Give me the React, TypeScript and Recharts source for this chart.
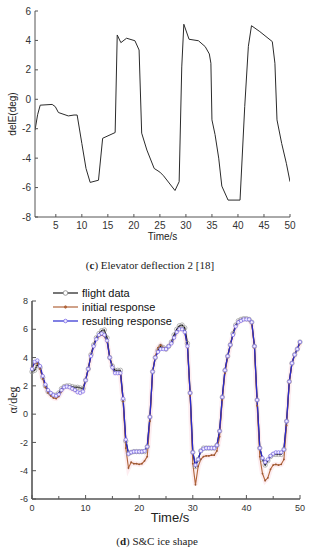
import React from "react";
import { LineChart, Line, XAxis, YAxis, Legend, Label } from "recharts";

// (c) elevator deflection
const elevTime = [
  1.0, 1.5, 2.0, 4.3, 4.9, 5.5, 7.4, 8.5, 9.1, 10.0, 10.8, 11.6, 13.2, 14.0,
  16.4, 16.8, 17.5, 18.6, 20.2, 21.0, 21.5, 22.5, 23.9, 25.0, 25.7, 27.9, 28.7,
  29.2, 29.6, 30.6, 32.4, 33.7, 34.5, 34.8, 35.0, 35.6, 36.3, 36.9, 38.1, 40.4,
  41.3, 42.0, 42.6, 44.2, 46.6, 47.1, 47.5, 48.4, 49.3, 50.0,
];
const elevDeg = [
  -2.1, -1.05, -0.4, -0.35, -0.5, -0.9, -1.13, -1.07, -1.07, -3.0, -4.7, -5.65,
  -5.5, -2.65, -2.26, 4.37, 3.85, 4.15, 3.98, 3.35, -2.3, -3.45, -4.7, -4.95,
  -5.2, -6.2, -5.6, 2.2, 5.1, 4.08, 3.98, 3.58, 3.08, 2.45, -1.4, -2.4, -4.0,
  -5.9, -6.85, -6.85, -0.5, 3.6, 5.0, 4.6, 3.92, 2.45, -1.4, -3.0, -4.35, -5.6,
];
const elevXTicks = [5, 10, 15, 20, 25, 30, 35, 40, 45, 50];
const elevYTicks = [-8, -6, -4, -2, 0, 2, 4, 6];

// (d) angle of attack, sampled every 0.5 s
const iceTime = [
  0, 0.5, 1, 1.5, 2, 2.5, 3, 3.5, 4, 4.5,
  5, 5.5, 6, 6.5, 7, 7.5, 8, 8.5, 9, 9.5,
  10, 10.5, 11, 11.5, 12, 12.5, 13, 13.5, 14, 14.5,
  15, 15.5, 16, 16.5, 17, 17.5, 18, 18.5, 19, 19.5,
  20, 20.5, 21, 21.5, 22, 22.5, 23, 23.5, 24, 24.5,
  25, 25.5, 26, 26.5, 27, 27.5, 28, 28.5, 29, 29.5,
  30, 30.5, 31, 31.5, 32, 32.5, 33, 33.5, 34, 34.5,
  35, 35.5, 36, 36.5, 37, 37.5, 38, 38.5, 39, 39.5,
  40, 40.5, 41, 41.5, 42, 42.5, 43, 43.5, 44, 44.5,
  45, 45.5, 46, 46.5, 47, 47.5, 48, 48.5, 49, 49.5,
  50,
];
const flightData = [
  3.0, 3.1, 3.5, 3.3, 2.6, 2.0, 1.6, 1.45, 1.35, 1.35,
  1.5, 1.8, 1.95, 2.0, 2.0, 1.95, 1.9, 1.9, 1.85, 1.8,
  2.4, 3.2, 4.2, 4.9, 5.4, 5.7, 5.9, 5.95, 5.4, 4.0,
  3.4, 3.1, 3.1, 3.1, 1.0, -1.9, -2.8, -2.7, -2.65, -2.65,
  -2.65, -2.65, -2.65, -2.3, -0.2, 3.0, 4.0, 4.5, 4.8, 4.7,
  4.6, 4.8, 5.1, 5.6, 6.0, 6.25, 6.3, 6.1, 5.0, 1.5,
  -2.7, -3.7, -3.2, -2.6, -2.4, -2.4, -2.4, -2.4, -2.4, -2.2,
  -1.2, 1.2, 3.1, 4.1, 4.9, 5.7, 6.3, 6.6, 6.7, 6.75,
  6.75, 6.7, 6.5, 4.8, 1.0, -2.4, -3.2, -3.6, -3.3, -3.0,
  -2.85, -2.85, -2.85, -2.85, -2.5, -0.5, 2.3, 3.6, 4.2, 4.6,
  5.1,
];
const initialResponse = [
  3.3, 3.6, 3.6, 3.2, 2.5, 1.9, 1.5, 1.3, 1.15, 1.1,
  1.25, 1.6, 1.9, 1.95, 1.85, 1.75, 1.65, 1.55, 1.5, 1.6,
  2.4, 3.2, 4.1, 4.8, 5.3, 5.5, 5.6, 5.5, 5.1, 4.0,
  3.3, 2.9, 2.9, 2.8, 0.9, -2.4, -3.8, -3.4, -3.5, -3.5,
  -3.55, -3.5, -3.3, -3.0, -0.5, 3.0, 4.1, 4.7, 4.9, 4.7,
  4.6, 4.8, 5.0, 5.4, 5.8, 6.0, 6.0, 5.8, 4.7, 1.3,
  -3.5, -5.0, -3.7, -3.2, -3.0, -2.95, -2.95, -2.9, -2.9, -2.6,
  -1.6, 1.0, 2.9, 4.0, 4.9, 5.6, 6.2, 6.5, 6.6, 6.7,
  6.7, 6.65, 6.4, 4.7, 0.6, -3.0, -4.2, -4.7, -4.5, -3.9,
  -3.6, -3.55, -3.6, -3.55, -3.2, -0.8, 2.2, 3.6, 4.2, 4.6,
  5.0,
];
const resultingResponse = [
  3.2, 3.7, 3.8, 3.4, 2.7, 2.1, 1.7, 1.5, 1.35, 1.3,
  1.4, 1.7, 1.9, 1.95, 1.9, 1.8, 1.7, 1.55, 1.5, 1.6,
  2.4, 3.2, 4.1, 4.8, 5.3, 5.6, 5.7, 5.6, 5.2, 4.0,
  3.3, 2.9, 2.9, 2.9, 1.1, -1.8, -2.8, -2.7, -2.65, -2.65,
  -2.65, -2.65, -2.6, -2.3, -0.2, 3.0, 4.0, 4.4, 4.6, 4.6,
  4.6, 4.8, 5.0, 5.4, 5.8, 6.0, 6.0, 5.8, 4.8, 1.5,
  -2.7, -3.6, -3.2, -2.6, -2.45, -2.4, -2.4, -2.4, -2.4, -2.2,
  -1.2, 1.2, 3.1, 4.1, 4.9, 5.6, 6.2, 6.5, 6.6, 6.7,
  6.7, 6.7, 6.5, 4.8, 1.0, -2.4, -3.1, -3.4, -3.2, -2.95,
  -2.8, -2.7, -2.7, -2.7, -2.5, -0.5, 2.3, 3.6, 4.2, 4.6,
  5.1,
];
const iceXTicks = [0, 5, 10, 15, 20, 25, 30, 35, 40, 45, 50];
const iceYTicks = [-6, -5, -4, -3, -2, -1, 0, 1, 2, 3, 4, 5, 6, 7, 8];

const SANS = '"Liberation Sans", Arial, sans-serif';
const SERIF = '"Liberation Serif", "Times New Roman", serif';
const AXIS = "#555";

const elevData = elevTime.map((t, i) => ({ t, v: elevDeg[i] }));
const iceData = iceTime.map((t, i) => ({
  t,
  flight: flightData[i],
  initial: initialResponse[i],
  result: resultingResponse[i],
}));

// ticks point into the plot, labels sit outside
function LeftTick(props: any) {
  const { x, y, payload, gap, len, minorLen, isMajor, fontSize } = props;
  const major = isMajor(payload.value);
  const ax = x + gap;
  return (
    <g>
      <line x1={ax} x2={ax + (major ? len : minorLen)} y1={y} y2={y} stroke={AXIS} strokeWidth={1} />
      {major && (
        <text x={x} y={y} dy="0.35em" textAnchor="end" fontFamily={SANS} fontSize={fontSize} fill="#333">
          {payload.value}
        </text>
      )}
    </g>
  );
}

function BottomTick(props: any) {
  const { x, y, payload, gap, len, minorLen, isMajor, fontSize } = props;
  const major = isMajor(payload.value);
  const ay = y - gap;
  return (
    <g>
      <line x1={x} x2={x} y1={ay} y2={ay - (major ? len : minorLen)} stroke={AXIS} strokeWidth={1} />
      {major && (
        <text x={x} y={y} dy="0.75em" textAnchor="middle" fontFamily={SANS} fontSize={fontSize} fill="#333">
          {payload.value}
        </text>
      )}
    </g>
  );
}

function IceLegend() {
  const rows = [
    { name: "flight data", color: "#1a1a1a", dot: { r: 2.3, stroke: "#888", fill: "#fff" } },
    { name: "initial response", color: "#b0643a", dot: { r: 1.2, stroke: "#b0643a", fill: "#b0643a" } },
    { name: "resulting response", color: "#2a2ad0", dot: { r: 1.8, stroke: "#7a6ae6", fill: "#f0ecff" } },
  ];
  return (
    <svg width={140} height={44}>
      {rows.map((r, i) => (
        <g key={r.name}>
          <line x1={1} x2={26} y1={7 + i * 14} y2={7 + i * 14} stroke={r.color} strokeWidth={1.2} />
          <circle cx={13.5} cy={7 + i * 14} r={r.dot.r} stroke={r.dot.stroke} fill={r.dot.fill} strokeWidth={0.8} />
          <text x={30} y={7 + i * 14} dy="0.35em" fontFamily={SANS} fontSize={11} fill="#111">
            {r.name}
          </text>
        </g>
      ))}
    </svg>
  );
}

export default function App() {
  return (
    <div style={{ position: "absolute", left: 0, top: 0, width: 312, height: 550, background: "#fff" }}>
      <div style={{ position: "absolute", left: 0, top: 0 }}>
        <LineChart width={312} height={245} data={elevData} margin={{ top: 11, right: 22, bottom: 0, left: 0 }}>
          <XAxis
            dataKey="t"
            type="number"
            domain={[1, 50]}
            ticks={elevXTicks}
            allowDataOverflow
            height={28}
            tickSize={0}
            tickMargin={4}
            tickLine={false}
            axisLine={{ stroke: AXIS, strokeWidth: 1 }}
            tick={(p: any) => <BottomTick {...p} gap={4} len={3} minorLen={3} isMajor={() => true} fontSize={10} />}
          >
            <Label
              content={(p: any) => (
                <text
                  x={p.viewBox.x + p.viewBox.width / 2}
                  y={p.viewBox.y + 23}
                  textAnchor="middle"
                  fontFamily={SANS}
                  fontSize={10}
                  fill="#222"
                >
                  Time/s
                </text>
              )}
            />
          </XAxis>
          <YAxis
            type="number"
            domain={[-8, 6]}
            ticks={elevYTicks}
            width={35}
            tickSize={0}
            tickMargin={4}
            tickLine={false}
            axisLine={{ stroke: AXIS, strokeWidth: 1 }}
            tick={(p: any) => <LeftTick {...p} gap={4} len={3} minorLen={3} isMajor={() => true} fontSize={10} />}
          >
            <Label
              content={(p: any) => {
                const cx = p.viewBox.x + 12;
                const cy = p.viewBox.y + p.viewBox.height / 2;
                return (
                  <text
                    x={cx}
                    y={cy}
                    dy="0.35em"
                    textAnchor="middle"
                    transform={`rotate(-90 ${cx} ${cy})`}
                    fontFamily={SANS}
                    fontSize={10}
                    fill="#222"
                  >
                    delE(deg)
                  </text>
                );
              }}
            />
          </YAxis>
          <Line dataKey="v" stroke="#2b2b2b" strokeWidth={1} dot={false} isAnimationActive={false} />
        </LineChart>
      </div>

      <div
        style={{
          position: "absolute",
          left: 0,
          top: 258,
          width: 300,
          textAlign: "center",
          fontFamily: SERIF,
          fontSize: 11,
          lineHeight: "14px",
          color: "#222",
        }}
      >
        (<b>c</b>) Elevator deflection 2 [18]
      </div>

      <div style={{ position: "absolute", left: 0, top: 285 }}>
        <LineChart width={312} height={240} data={iceData} margin={{ top: 16, right: 12, bottom: 0, left: 0 }}>
          <XAxis
            dataKey="t"
            type="number"
            domain={[0, 50]}
            ticks={iceXTicks}
            height={26}
            tickSize={0}
            tickMargin={5}
            tickLine={false}
            axisLine={{ stroke: AXIS, strokeWidth: 1.6 }}
            tick={(p: any) => (
              <BottomTick {...p} gap={5} len={4} minorLen={3} isMajor={(v: number) => v % 10 === 0} fontSize={9} />
            )}
          >
            <Label
              content={(p: any) => (
                <text
                  x={p.viewBox.x + p.viewBox.width / 2 + 4}
                  y={p.viewBox.y + 23}
                  textAnchor="middle"
                  fontFamily={SANS}
                  fontSize={13}
                  fill="#222"
                >
                  Time/s
                </text>
              )}
            />
          </XAxis>
          <YAxis
            type="number"
            domain={[-6, 8]}
            ticks={iceYTicks}
            width={32}
            tickSize={0}
            tickMargin={4}
            tickLine={false}
            axisLine={{ stroke: AXIS, strokeWidth: 1.6 }}
            tick={(p: any) => (
              <LeftTick {...p} gap={4} len={4} minorLen={2.5} isMajor={(v: number) => v % 2 === 0} fontSize={9} />
            )}
          >
            <Label
              content={(p: any) => {
                const cx = p.viewBox.x + 13;
                const cy = p.viewBox.y + p.viewBox.height / 2;
                return (
                  <text
                    x={cx}
                    y={cy}
                    dy="0.35em"
                    textAnchor="middle"
                    transform={`rotate(-90 ${cx} ${cy})`}
                    fontFamily={SERIF}
                    fontSize={12}
                    fill="#222"
                  >
                    α/deg
                  </text>
                );
              }}
            />
          </YAxis>
          <Legend
            layout="vertical"
            align="center"
            verticalAlign="middle"
            content={() => <IceLegend />}
            wrapperStyle={{ top: 1, left: 52, width: 140, height: 44 }}
          />
          <Line
            dataKey="initial"
            stroke="#fbd6de"
            strokeOpacity={0.45}
            strokeWidth={5}
            dot={false}
            legendType="none"
            isAnimationActive={false}
          />
          <Line
            dataKey="flight"
            name="flight data"
            stroke="#1a1a1a"
            strokeWidth={1.3}
            dot={{ r: 2.2, stroke: "#999", strokeWidth: 0.7, fill: "none" }}
            isAnimationActive={false}
          />
          <Line
            dataKey="initial"
            name="initial response"
            stroke="#b0643a"
            strokeWidth={1.1}
            dot={{ r: 0.9, stroke: "none", fill: "#9a5530" }}
            isAnimationActive={false}
          />
          <Line
            dataKey="result"
            name="resulting response"
            stroke="#2a2ad0"
            strokeWidth={1.2}
            dot={{ r: 1.7, stroke: "#7a6ae6", strokeWidth: 0.7, fill: "#f0ecff" }}
            isAnimationActive={false}
          />
        </LineChart>
      </div>

      <div
        style={{
          position: "absolute",
          left: 0,
          top: 534,
          width: 314,
          textAlign: "center",
          fontFamily: SERIF,
          fontSize: 11,
          lineHeight: "14px",
          color: "#222",
        }}
      >
        (<b>d</b>) S&amp;C ice shape
      </div>
    </div>
  );
}
